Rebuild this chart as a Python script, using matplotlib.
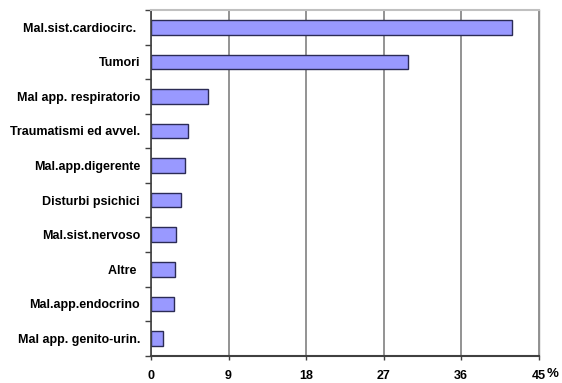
import matplotlib
matplotlib.use("Agg")
import matplotlib.pyplot as plt
import numpy as np

plt.rcParams['font.family'] = ['Liberation Sans', 'DejaVu Sans']

categories = ["Mal.sist.cardiocirc. ", "Tumori", "Mal app. respiratorio",
              "Traumatismi ed avvel.", "Mal.app.digerente", "Disturbi psichici",
              "Mal.sist.nervoso", "Altre ", "Mal.app.endocrino",
              "Mal app. genito-urin."]
values = [41.9, 29.9, 6.6, 4.3, 4.0, 3.45, 2.95, 2.75, 2.65, 1.45]
xticks = [0, 9, 18, 27, 36, 45]

fig = plt.figure(figsize=(5.62, 3.83), dpi=100)
ax = fig.add_axes([151 / 562, 1 - 355.7 / 383, (538.5 - 151) / 562, (355.7 - 10) / 383])

y = np.arange(len(categories))
ax.barh(y, values, height=0.42, color="#9999ff", edgecolor="#2b2b55",
        linewidth=1.0, zorder=3)

ax.set_ylim(len(categories) - 0.5, -0.5)
ax.set_xlim(0, 45)

# vertical grid
ax.set_xticks(xticks)
ax.set_xticklabels([str(t) for t in xticks], fontsize=9, fontweight="bold")
ax.xaxis.grid(True, color="#808080", linewidth=1.2, zorder=0)
ax.tick_params(axis="x", direction="out", length=3, width=1, color="#404040", pad=7)
ax.text(1.022, -0.052, "%", transform=ax.transAxes, fontsize=9.5,
        fontweight="bold", ha="left", va="center")

# category labels centred on bars, tick marks at boundaries
ax.set_yticks(y)
ax.set_yticklabels(categories, fontsize=9, fontweight="bold")
ax.tick_params(axis="y", which="major", length=0, pad=8)
ax.set_yticks(np.arange(-0.5, len(categories), 1.0), minor=True)
ax.tick_params(axis="y", which="minor", direction="out", length=4, width=1,
               color="#404040")

ax.spines["left"].set_color("#404040")
ax.spines["left"].set_linewidth(1.2)
ax.spines["bottom"].set_color("#404040")
ax.spines["bottom"].set_linewidth(1.5)
ax.spines["top"].set_color("#c0c0c0")
ax.spines["top"].set_linewidth(1.5)
ax.spines["right"].set_color("#909090")
ax.spines["right"].set_linewidth(1.0)
for s in ax.spines.values():
    s.set_zorder(4)

fig.savefig("out.png", dpi=100)
